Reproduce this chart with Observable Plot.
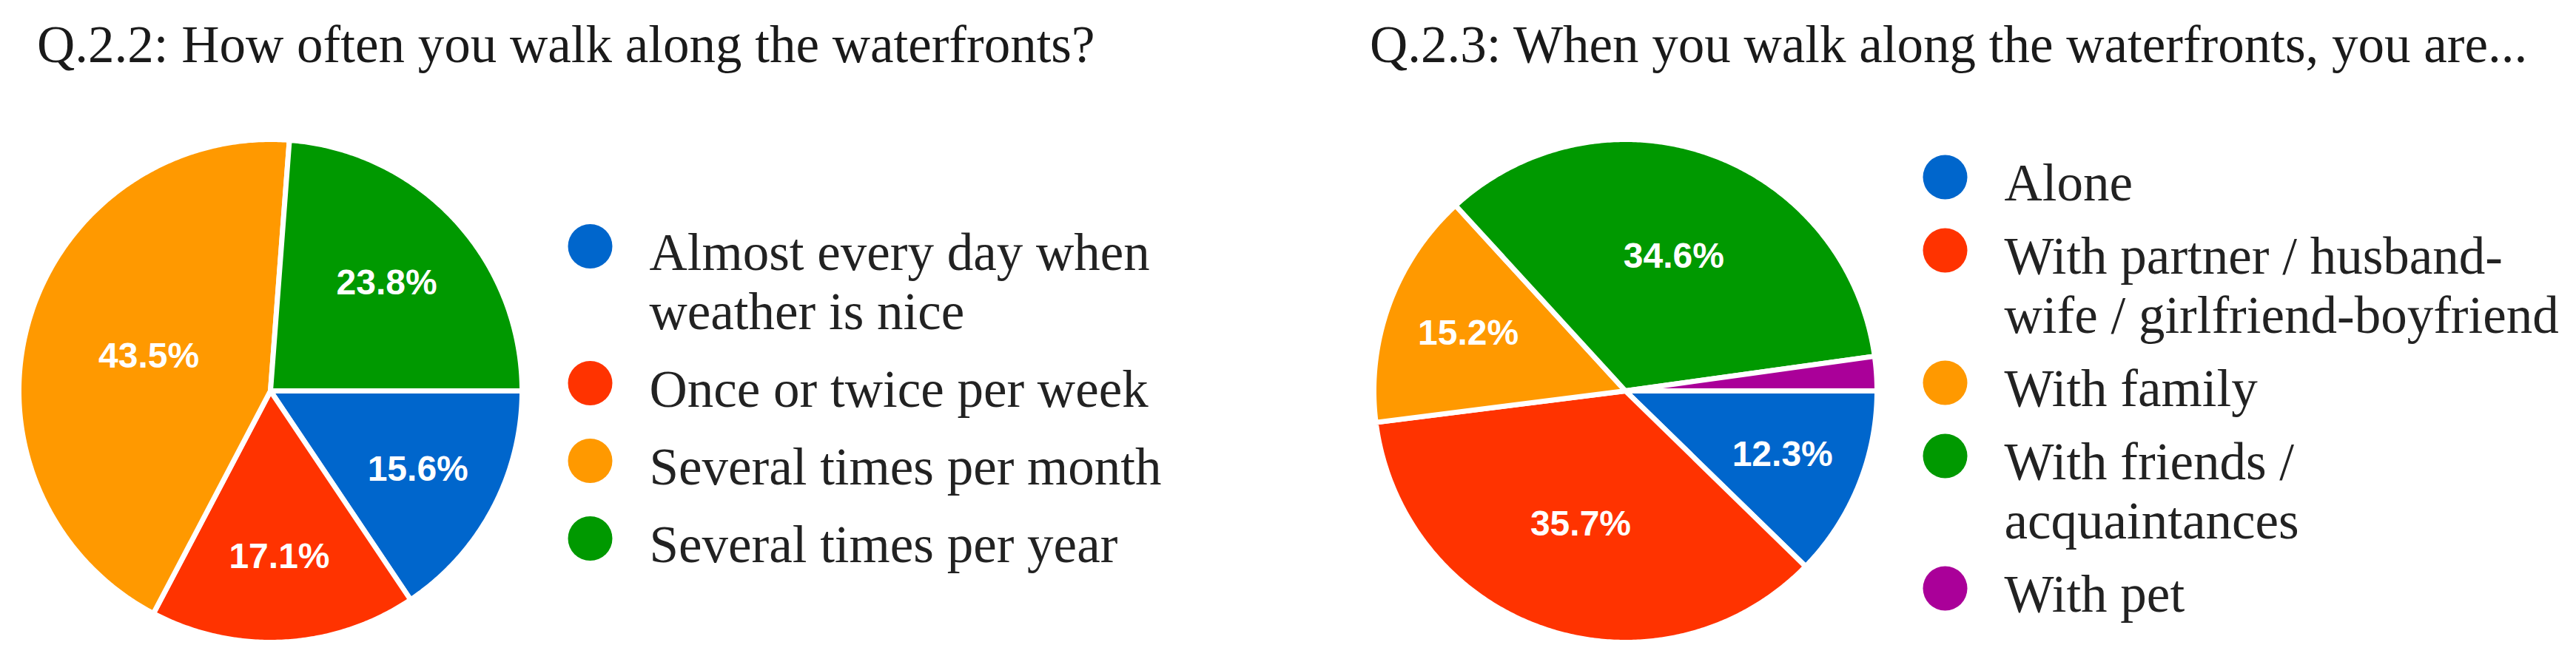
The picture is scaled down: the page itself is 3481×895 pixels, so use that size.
<!DOCTYPE html>
<html>
<head>
<meta charset="utf-8">
<script src="https://cdn.jsdelivr.net/npm/d3@7"></script>
<script src="https://cdn.jsdelivr.net/npm/@observablehq/plot@0.6"></script>
<style>
  html, body { margin: 0; padding: 0; background: #ffffff; width: 3481px; height: 895px; overflow: hidden; }
  .title { position: absolute; top: 25px; font-family: "Liberation Serif", "Times New Roman", serif; font-size: 71px; line-height: 71px; color: #1a1a1a; white-space: nowrap; }
  .panel { position: absolute; top: 140px; }
</style>
</head>
<body>
<div class="title" id="title1" style="left:50px"></div>
<div class="title" id="title2" style="left:1851px"></div>
<div class="panel" id="panel1" style="left:0px"></div>
<div class="panel" id="panel2" style="left:1831px"></div>
<script>
// ---- Data ----
const q1Title = "Q.2.2: How often you walk along the waterfronts?";
const q1Categories = ["Almost every day when weather is nice", "Once or twice per week", "Several times per month", "Several times per year"];
const q1Values = [15.6, 17.1, 43.5, 23.8];
const q1Colors = ["#0066cc", "#ff3300", "#ff9900", "#009900"];

const q2Title = "Q.2.3: When you walk along the waterfronts, you are...";
const q2Categories = ["Alone", "With partner / husband-wife / girlfriend-boyfriend", "With family", "With friends / acquaintances", "With pet"];
const q2Values = [12.3, 35.7, 15.2, 34.6, 2.2];
const q2Colors = ["#0066cc", "#ff3300", "#ff9900", "#009900", "#aa0099"];

// ---- Layout constants ----
const R = 340;            // geometry radius (px units via identity projection)
const RVIS = 337;         // visible radius after white stroke
const PLOT_H = 755;
const CX = 365;           // pie centre within each panel
const CY = 388;           // pie centre from top of svg
const LEGEND_FONT = 71;
const LINE_H = 80;
const LEGEND_MAXW = 780;

const canvas = document.createElement("canvas");
const ctx = canvas.getContext("2d");
ctx.font = `${LEGEND_FONT}px "Liberation Serif"`;

function wrap(text, maxW) {
  const tokens = [];
  text.split(" ").forEach((word, wi) => {
    const parts = word.split(/(?<=-)/);
    parts.forEach((p, pi) => tokens.push({t: p, sp: pi === 0 && wi > 0}));
  });
  const lines = [];
  let line = "";
  for (const tok of tokens) {
    const cand = line === "" ? tok.t : line + (tok.sp ? " " : "") + tok.t;
    if (line !== "" && ctx.measureText(cand).width > maxW) {
      lines.push(line);
      line = tok.t;
    } else line = cand;
  }
  if (line) lines.push(line);
  return lines;
}

function pie({title, categories, values, colors, legendTop, legendGap, width, titleEl, panelEl}) {
  document.getElementById(titleEl).textContent = title;
  const total = d3.sum(values);
  let a = Math.PI / 2; // start at 3 o'clock, clockwise
  const pt = (r, t) => [r * Math.sin(t), -r * Math.cos(t)];
  const slices = values.map((v, i) => {
    const a0 = a, a1 = a + (v / total) * 2 * Math.PI;
    a = a1;
    const n = Math.max(2, Math.ceil((a1 - a0) / (Math.PI / 360)));
    const ring = [[0, 0]];
    for (let k = 0; k <= n; ++k) ring.push(pt(R, a0 + (a1 - a0) * k / n));
    ring.push([0, 0]);
    const alpha = a1 - a0;
    const lr = 4 * RVIS * Math.sin(alpha / 2) / (3 * alpha) + 10;
    const [lx, ly] = pt(lr, (a0 + a1) / 2);
    return {
      type: "Feature",
      properties: {category: categories[i], value: v, lx, ly},
      geometry: {type: "Polygon", coordinates: [ring]}
    };
  });
  const labels = slices.filter(s => s.properties.value >= 5).map(s => s.properties);

  const legend = [];
  let y = legendTop;
  categories.forEach((c, i) => {
    const lines = wrap(c, LEGEND_MAXW);
    legend.push({category: c, text: lines.join("\n"), y});
    y += (lines.length - 1) * LINE_H + legendGap;
  });

  const chart = Plot.plot({
    width,
    height: PLOT_H,
    margin: 0,
    projection: {
      type: "identity",
      clip: false,
      domain: {type: "MultiPoint", coordinates: [[-CX, -CY], [width - CX, PLOT_H - CY]]}
    },
    color: {domain: categories, range: colors},
    style: {background: "transparent", overflow: "visible"},
    marks: [
      Plot.geo(slices, {fill: d => d.properties.category, stroke: "white", strokeWidth: 7, strokeLinejoin: "round"}),
      Plot.text(labels, {
        x: "lx", y: "ly", text: d => `${d.value.toFixed(1)}%`,
        fill: "white", fontSize: 48, fontWeight: "bold", fontFamily: "Liberation Sans, Arial, sans-serif",
        textAnchor: "middle", lineAnchor: "middle"
      }),
      Plot.dot(legend, {x: () => 432, y: "y", r: 30, fill: "category", stroke: null}),
      Plot.text(legend, {
        x: () => 512, y: "y", text: "text", dy: -25,
        textAnchor: "start", lineAnchor: "top", lineHeight: LINE_H / LEGEND_FONT,
        fontSize: LEGEND_FONT, fontFamily: "Liberation Serif, Times New Roman, serif", fill: "#222222"
      })
    ]
  });
  document.getElementById(panelEl).appendChild(chart);
}

pie({title: q1Title, categories: q1Categories, values: q1Values, colors: q1Colors,
     legendTop: -195.5, legendGap: 105, width: 1831, titleEl: "title1", panelEl: "panel1"});
pie({title: q2Title, categories: q2Categories, values: q2Values, colors: q2Colors,
     legendTop: -289, legendGap: 99, width: 1650, titleEl: "title2", panelEl: "panel2"});
</script>
</body>
</html>
